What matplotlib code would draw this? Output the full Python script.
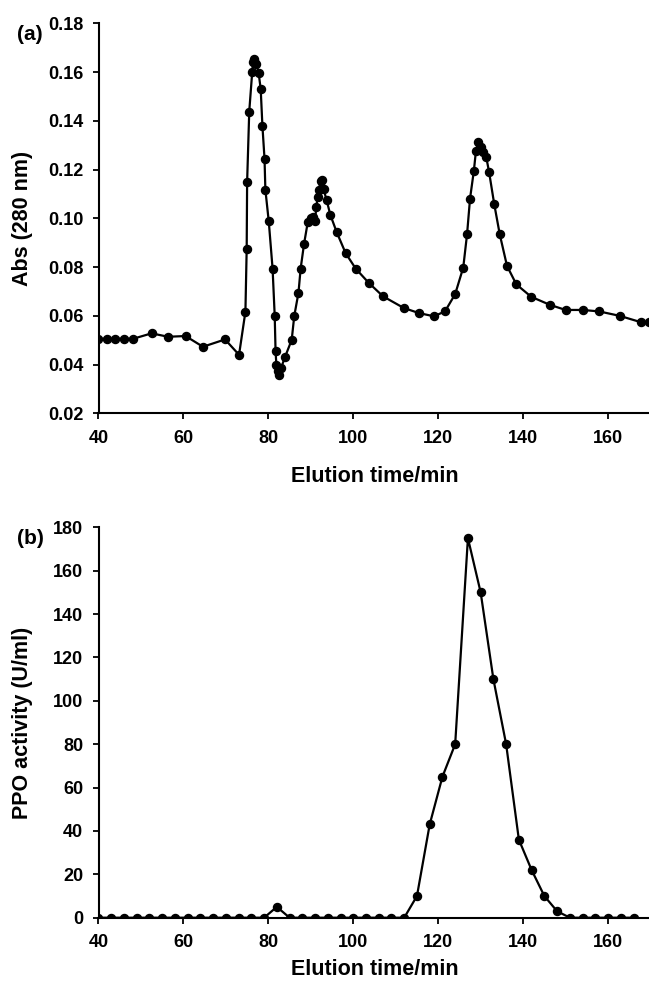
import matplotlib
matplotlib.use("Agg")
import matplotlib.pyplot as plt
from matplotlib.ticker import FormatStrFormatter

# (a) absorbance at 280 nm
time_a = [40, 42, 44, 46, 48.2, 52.5, 56.4, 60.5, 64.6, 69.8, 73.1, 74.6, 74.9, 75.0,
          75.5, 76.2, 76.4, 76.6, 76.8, 77.2, 77.7, 78.2, 78.6, 79.1, 79.3, 80.1, 81.0,
          81.5, 81.7, 81.9, 82.2, 82.5, 83.0, 83.9, 85.5, 86.1, 87.1, 87.6, 88.4, 89.3,
          90.0, 90.6, 91.0, 91.3, 91.6, 91.9, 92.3, 92.6, 93.0, 93.7, 94.6, 96.1, 98.2,
          100.6, 103.6, 107.0, 111.9, 115.5, 119.0, 121.6, 124.0, 125.9, 126.8, 127.5,
          128.4, 128.9, 129.4, 130.1, 130.5, 131.3, 132.0, 133.2, 134.5, 136.2, 138.4,
          141.9, 146.3, 150.0, 154.0, 157.9, 162.7, 167.7, 169.7]
abs_280 = [0.0506, 0.0506, 0.0506, 0.0506, 0.0506, 0.0528, 0.0514, 0.0517, 0.0473, 0.0503,
           0.0440, 0.0617, 0.0876, 0.1148, 0.1438, 0.1600, 0.1643, 0.1654, 0.1639, 0.1632,
           0.1598, 0.1530, 0.1380, 0.1244, 0.1117, 0.0987, 0.0793, 0.0599, 0.0454, 0.0397,
           0.0375, 0.0358, 0.0386, 0.0430, 0.0501, 0.0599, 0.0695, 0.0793, 0.0894, 0.0986,
           0.1001, 0.1006, 0.0990, 0.1047, 0.1088, 0.1115, 0.1154, 0.1156, 0.1120, 0.1076,
           0.1014, 0.0943, 0.0857, 0.0793, 0.0736, 0.0680, 0.0632, 0.0611, 0.0598, 0.0618,
           0.0689, 0.0798, 0.0935, 0.1081, 0.1195, 0.1278, 0.1311, 0.1293, 0.1274, 0.1253,
           0.1188, 0.1058, 0.0934, 0.0805, 0.0729, 0.0678, 0.0645, 0.0624, 0.0624, 0.0618,
           0.0600, 0.0574, 0.0574]

# (b) PPO activity
time_b = [40, 43, 46, 49, 52, 55, 58, 61, 64, 67, 70, 73, 76, 79, 82, 85, 88, 91, 94, 97,
          100, 103, 106, 109, 112, 115, 118, 121, 124, 127, 130, 133, 136, 139, 142, 145,
          148, 151, 154, 157, 160, 163, 166]
ppo = [0, 0, 0, 0, 0, 0, 0, 0, 0, 0, 0, 0, 0, 0, 5, 0, 0, 0, 0, 0,
       0, 0, 0, 0, 0, 10, 43, 65, 80, 175, 150, 110, 80, 36, 22, 10,
       3, 0, 0, 0, 0, 0, 0]

plt.rcParams['font.family'] = ['Liberation Sans', 'DejaVu Sans']
plt.rcParams['font.weight'] = 'bold'

W, H = 649, 984
fig = plt.figure(figsize=(W / 100, H / 100), dpi=100)

left = 98.5 / W
width = 552 / W
ax1 = fig.add_axes([left, 1 - 413.3 / H, width, 390 / H])
ax2 = fig.add_axes([left, 1 - 917.7 / H, width, 390.4 / H])

style = dict(color='black', lw=1.6, marker='o', ms=5.8, clip_on=True)
ax1.plot(time_a, abs_280, **style)
ax2.plot(time_b, ppo, **style)

for ax in (ax1, ax2):
    ax.spines['top'].set_visible(False)
    ax.spines['right'].set_visible(False)
    for s in ('left', 'bottom'):
        ax.spines[s].set_linewidth(1.5)
    ax.set_xlim(40, 170)
    ax.set_xticks([40, 60, 80, 100, 120, 140, 160])
    ax.tick_params(axis='both', direction='out', length=4, width=1.3,
                   labelsize=13)
    ax.tick_params(axis='x', pad=8)
    ax.tick_params(axis='y', pad=7)
    for lab in ax.get_xticklabels() + ax.get_yticklabels():
        lab.set_fontweight('bold')

ax1.set_ylim(0.02, 0.18)
ax1.set_yticks([0.02, 0.04, 0.06, 0.08, 0.10, 0.12, 0.14, 0.16, 0.18])
ax1.yaxis.set_major_formatter(FormatStrFormatter('%.2f'))
ax2.set_ylim(0, 180)
ax2.set_yticks(range(0, 181, 20))

ax1.set_xlabel("Elution time/min", fontsize=15.5, fontweight='bold')
ax1.set_ylabel("Abs (280 nm)", fontsize=15.5, fontweight='bold')
ax2.set_xlabel("Elution time/min", fontsize=15.5, fontweight='bold')
ax2.set_ylabel("PPO activity (U/ml)", fontsize=15.5, fontweight='bold')
ax1.xaxis.set_label_coords(0.5, -0.135)
ax2.xaxis.set_label_coords(0.5, -0.107)
ax1.yaxis.set_label_coords(-0.118, 0.5)
ax2.yaxis.set_label_coords(-0.118, 0.5)

fig.text(30 / W, 1 - 34 / H, "(a)", fontsize=15, fontweight='bold',
         ha='center', va='center')
fig.text(30 / W, 1 - 538 / H, "(b)", fontsize=15, fontweight='bold',
         ha='center', va='center')

fig.savefig("out.png", dpi=100)
